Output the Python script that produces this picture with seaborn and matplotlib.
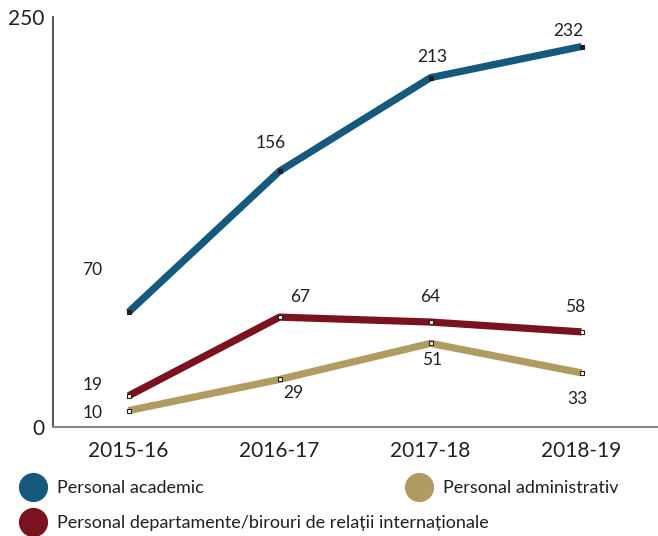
import numpy as np
import pandas as pd
import matplotlib
matplotlib.use("Agg")
import matplotlib.pyplot as plt
from matplotlib.lines import Line2D
import seaborn as sns

# date
ani = ["2015-16", "2016-17", "2017-18", "2018-19"]
academic = [70, 156, 213, 232]
departamente = [19, 67, 64, 58]
administrativ = [10, 29, 51, 33]

serii = ["Personal academic", "Personal departamente/birouri de relații internaționale",
         "Personal administrativ"]
culori = ["#155a7c", "#7a1220", "#b09c62"]
valori = [academic, departamente, administrativ]

# offset etichete (pixeli)
offsets = [
    [(-36, 42), (-9, 28), (2, 21), (-13, 16)],
    [(-36, 11), (21, 20), (0, 25), (-6, 25)],
    [(-36, -2), (14, -14), (2, -17), (-4, -26)],
]

sns.set_style("white")
plt.rcParams['font.family'] = ['Lato', 'DejaVu Sans']
text_col = "#231f20"

df = pd.DataFrame({
    "x": np.tile(np.arange(len(ani)), len(serii)),
    "val": academic + departamente + administrativ,
    "serie": np.repeat(serii, len(ani)),
})

fig = plt.figure(figsize=(6.58, 5.36), dpi=100)
ax = fig.add_axes([53/658, 1 - 427/536, 604/658, 410/536])

sns.lineplot(data=df, x="x", y="val", hue="serie", palette=culori, hue_order=serii,
             linewidth=5.2, legend=False, ax=ax, solid_capstyle="butt")

for i, s in enumerate(serii):
    sub = df[df.serie == s]
    fc = "#231f20" if i == 0 else "white"
    ax.plot(sub.x, sub.val, ls="", marker="s", ms=3.5, mfc=fc, mec="#231f20", mew=0.8, zorder=5)
    for j, (xv, yv) in enumerate(zip(sub.x, sub.val)):
        ax.annotate(str(yv), (xv, yv), xytext=offsets[i][j], textcoords="offset pixels",
                    ha="center", va="center", fontsize=12.5, color=text_col)

ax.set_xlim(-0.5, 3.5)
ax.set_ylim(0, 250)
ax.set_yticks([0, 250])
ax.set_yticklabels(["0", "250"], fontsize=15, color=text_col)
ax.tick_params(axis="y", direction="in", length=11, width=1, color=text_col, pad=6)
ax.set_xticks(range(len(ani)))
ax.set_xticklabels(ani, fontsize=15, color=text_col)
ax.tick_params(axis="x", which="major", length=0, pad=10)
ax.set_xticks([0.5, 1.5, 2.5, 3.5], minor=True)
ax.tick_params(axis="x", which="minor", direction="in", length=6, width=1, color="#444444")
ax.set_xlabel("")
ax.set_ylabel("")

for side in ["top", "right"]:
    ax.spines[side].set_visible(False)
ax.spines["left"].set_color("#333333")
ax.spines["bottom"].set_color("#8a8a8a")
ax.spines["left"].set_linewidth(1.2)
ax.spines["bottom"].set_linewidth(1.5)

def h(c):
    return Line2D([], [], ls="", marker="o", ms=20, mfc=c, mec=c)

leg1 = fig.legend([h(culori[0]), h(culori[1])], [serii[0], serii[1]], loc="upper left",
                  bbox_to_anchor=(19/658, 1 - 480/536), frameon=False, fontsize=13,
                  handlelength=1.5, handletextpad=0.6, labelspacing=1.05, borderpad=0,
                  borderaxespad=0, labelcolor=text_col)
leg2 = fig.legend([h(culori[2])], [serii[2]], loc="upper left",
                  bbox_to_anchor=(405/658, 1 - 480/536), frameon=False, fontsize=13,
                  handlelength=1.5, handletextpad=0.6, borderpad=0, borderaxespad=0,
                  labelcolor=text_col)

fig.savefig("out.png", dpi=100)
